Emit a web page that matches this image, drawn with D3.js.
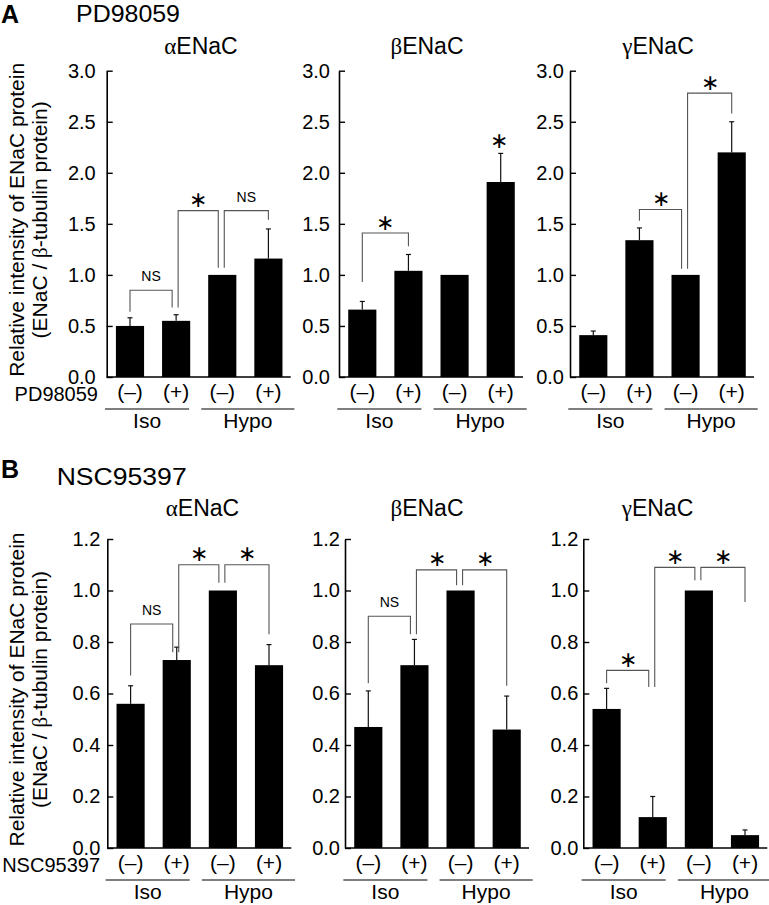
<!DOCTYPE html>
<html>
<head>
<meta charset="utf-8">
<script src="https://cdn.jsdelivr.net/npm/d3@7/dist/d3.min.js"></script>
<style>
  body { margin: 0; background: #fff; }
  svg { display: block; }
  text { font-family: "Liberation Sans", Arial, Helvetica, sans-serif; fill: #000; }
</style>
</head>
<body>
<svg id="chart" width="769" height="905"></svg>
<script>
// ---------- data ----------
const categories = ["(\u2013)", "(+)", "(\u2013)", "(+)"];
const groupLabels = ["Iso", "Hypo"];
const subunitGreek = ["\u03B1", "\u03B2", "\u03B3"];
const subunitName = "ENaC";
const headerA = "PD98059";
const headerB = "NSC95397";
const yTitle1 = "Relative intensity of ENaC protein";
const yTitle2a = "(ENaC / ";
const yTitle2b = "\u03B2";
const yTitle2c = "-tubulin protein)";
const yTicksA = [0, 0.5, 1.0, 1.5, 2.0, 2.5, 3.0];
const yTicksB = [0, 0.2, 0.4, 0.6, 0.8, 1.0, 1.2];

// PD98059 (panel A): means and SEM
const pdAlphaMean = [0.50, 0.55, 1.00, 1.16];
const pdAlphaSem  = [0.08, 0.06, 0, 0.29];
const pdBetaMean  = [0.66, 1.04, 1.00, 1.91];
const pdBetaSem   = [0.08, 0.16, 0, 0.28];
const pdGammaMean = [0.41, 1.34, 1.00, 2.20];
const pdGammaSem  = [0.04, 0.12, 0, 0.30];

// NSC95397 (panel B)
const nscAlphaMean = [0.56, 0.73, 1.00, 0.71];
const nscAlphaSem  = [0.07, 0.05, 0, 0.08];
const nscBetaMean  = [0.47, 0.71, 1.00, 0.46];
const nscBetaSem   = [0.14, 0.10, 0, 0.13];
const nscGammaMean = [0.54, 0.12, 1.00, 0.05];
const nscGammaSem  = [0.08, 0.08, 0, 0.02];

// significance brackets: [barFrom, barTo, label, level, leftLegEnd, rightLegEnd]
const pdAlphaBrackets = [[0,1,"NS",0.85,0.64,0.68],[1,2,"*",1.63,0.68,1.07],[2,3,"NS",1.63,1.07,1.54]];
const pdBetaBrackets  = [[0,1,"*",1.41,0.93,1.28]];
const pdBetaStars     = [[3, 2.32]];
const pdGammaBrackets = [[1,2,"*",1.64,1.53,1.06],[2,3,"*",2.78,1.06,2.58]];
const nscAlphaBrackets = [[0,1,"NS",0.87,0.67,0.76],[1,2,"*",1.10,0.76,1.03],[2,3,"*",1.10,1.03,0.83]];
const nscBetaBrackets  = [[0,1,"NS",0.90,0.64,0.83],[1,2,"*",1.08,0.83,1.02],[2,3,"*",1.08,1.02,0.63]];
const nscGammaBrackets = [[0,1,"*",0.69,0.64,0.625],[1,2,"*",1.09,0.625,1.04],[2,3,"*",1.09,1.04,0.955]];

// ---------- layout ----------
const svg = d3.select("#chart");
const FONT = 21;
const STAR_FONT = '"DejaVu Sans", sans-serif';

function star(g, x, y) {
  g.append("text").attr("x", x).attr("y", y).attr("text-anchor", "middle")
    .attr("dominant-baseline", "central")
    .attr("font-family", STAR_FONT).attr("font-size", 22).text("\u2217");
}

function drawPanel(opt) {
  const g = svg.append("g");
  const x = d3.scaleBand().domain(d3.range(4))
    .range([opt.axisX, opt.axisX + 185]).paddingInner(0.39).paddingOuter(0.2);
  const y = d3.scaleLinear().domain([0, opt.max]).range([opt.bottom, opt.top]);
  const cx = i => x(i) + x.bandwidth() / 2;

  // bars
  g.selectAll("rect.bar").data(opt.mean).join("rect")
    .attr("x", (d, i) => x(i)).attr("width", x.bandwidth())
    .attr("y", d => y(d)).attr("height", d => y(0) - y(d))
    .attr("fill", "#000");

  // error bars
  const eb = opt.mean.map((m, i) => ({i, m, s: opt.sem[i]})).filter(d => d.s > 0);
  g.selectAll("line.err").data(eb).join("line")
    .attr("x1", d => cx(d.i)).attr("x2", d => cx(d.i))
    .attr("y1", d => y(d.m)).attr("y2", d => y(d.m + d.s))
    .attr("stroke", "#111").attr("stroke-width", 1.2);
  g.selectAll("line.cap").data(eb).join("line")
    .attr("x1", d => cx(d.i) - 2.5).attr("x2", d => cx(d.i) + 2.5)
    .attr("y1", d => y(d.m + d.s)).attr("y2", d => y(d.m + d.s))
    .attr("stroke", "#111").attr("stroke-width", 1.2);

  // y axis (inward ticks)
  const ax = d3.axisLeft(y).tickValues(opt.ticks).tickFormat(d3.format(".1f"))
    .tickSizeInner(-6).tickSizeOuter(0).tickPadding(opt.tickPad);
  const ag = g.append("g").attr("transform", `translate(${opt.axisX},0)`).call(ax);
  ag.select(".domain").attr("stroke", "#000").attr("stroke-width", 1.6);
  ag.selectAll(".tick line").attr("stroke", "#000").attr("stroke-width", 1.4);
  ag.selectAll(".tick text").attr("font-size", 20)
    .attr("font-family", '"Liberation Sans", Arial, sans-serif').attr("fill", "#000");
  // x baseline
  g.append("line").attr("x1", opt.axisX).attr("x2", opt.axisX + 184)
    .attr("y1", y(0)).attr("y2", y(0)).attr("stroke", "#000").attr("stroke-width", 1.6);

  // category labels
  g.selectAll("text.cat").data(categories).join("text")
    .attr("x", (d, i) => cx(i)).attr("y", opt.bottom + 22)
    .attr("text-anchor", "middle").attr("font-size", FONT).text(d => d);

  // group lines and labels
  const grp = [[cx(0) - 25, cx(1) + 13], [cx(2) - 21, cx(3) + 26]];
  grp.forEach((r, k) => {
    g.append("line").attr("x1", r[0]).attr("x2", r[1])
      .attr("y1", opt.bottom + 32).attr("y2", opt.bottom + 32)
      .attr("stroke", "#000").attr("stroke-width", 1.2);
    g.append("text").attr("x", (r[0] + r[1]) / 2).attr("y", opt.bottom + 51)
      .attr("text-anchor", "middle").attr("font-size", FONT).text(groupLabels[k]);
  });

  // brackets
  const used = {};
  opt.brackets.forEach(b => { used[b[0]] = (used[b[0]] || 0) + 1; used[b[1]] = (used[b[1]] || 0) + 1; });
  opt.brackets.forEach(b => {
    const lx = cx(b[0]) + (used[b[0]] > 1 ? 2 : 0);
    const rx = cx(b[1]) + (used[b[1]] > 1 ? -4 : 0);
    const ly = y(b[3]);
    g.append("path")
      .attr("d", `M${lx},${y(b[4])}V${ly}H${rx}V${y(b[5])}`)
      .attr("fill", "none").attr("stroke", "#555").attr("stroke-width", 1.1);
    const mx = (lx + rx) / 2;
    if (b[2] === "NS") {
      g.append("text").attr("x", mx).attr("y", ly - 9).attr("text-anchor", "middle")
        .attr("font-size", 14).text("NS");
    } else {
      star(g, mx, ly - 11);
    }
  });
  (opt.stars || []).forEach(s => star(g, cx(s[0]) - 2, y(s[1])));

  // title
  const t = g.append("text").attr("x", opt.titleX).attr("y", opt.titleY)
    .attr("text-anchor", "middle").attr("font-size", 23);
  t.append("tspan").attr("font-family", '"Liberation Serif", "Times New Roman", serif').text(subunitGreek[opt.sub]);
  t.append("tspan").text(subunitName);
}

function drawSide(letter, header, rowLabel, top, bottom, letterY, headerY) {
  svg.append("text").attr("x", 1).attr("y", letterY).attr("font-size", 25)
    .attr("font-weight", "bold").text(letter);
  svg.append("text").attr("x", header.x).attr("y", headerY).attr("font-size", 23)
    .attr("textLength", header.len).attr("lengthAdjust", "spacingAndGlyphs").text(header.text);
  svg.append("text").attr("x", rowLabel.x).attr("y", bottom + 24).attr("font-size", 20)
    .attr("text-anchor", "end").text(rowLabel.text);
  const cy = (top + bottom) / 2 - 4;
  svg.append("text").attr("transform", `translate(24,${cy}) rotate(-90)`)
    .attr("text-anchor", "middle").attr("font-size", FONT).text(yTitle1);
  const t2 = svg.append("text").attr("transform", `translate(47,${cy}) rotate(-90)`)
    .attr("text-anchor", "middle").attr("font-size", FONT);
  t2.append("tspan").text(yTitle2a);
  t2.append("tspan").attr("font-family", '"Liberation Serif", "Times New Roman", serif').text(yTitle2b);
  t2.append("tspan").text(yTitle2c);
}

// Panel A
const A = {top: 70.7, bottom: 377, axisX: [106.7, 339, 570], titleX: [201, 427, 658], titleY: 54, pads: [11, 9, 6]};
drawSide("A", {x: 76, len: 104, text: headerA}, {x: 98, text: headerA}, A.top, A.bottom, 22.5, 21.7);
[[pdAlphaMean, pdAlphaSem, pdAlphaBrackets, null],
 [pdBetaMean, pdBetaSem, pdBetaBrackets, pdBetaStars],
 [pdGammaMean, pdGammaSem, pdGammaBrackets, null]].forEach((p, k) => drawPanel({
  axisX: A.axisX[k], top: A.top, bottom: A.bottom, max: 3.0, ticks: yTicksA,
  mean: p[0], sem: p[1], brackets: p[2], stars: p[3], sub: k,
  titleX: A.titleX[k], titleY: A.titleY, tickPad: A.pads[k]
}));

// Panel B
const B = {top: 539, bottom: 848, axisX: [107.3, 345, 583.3], titleX: [202.5, 427, 657.5], titleY: 516, pads: [7, 5, 5]};
drawSide("B", {x: 56.7, len: 130, text: headerB}, {x: 100, text: headerB}, B.top, B.bottom, 477.7, 485);
[[nscAlphaMean, nscAlphaSem, nscAlphaBrackets],
 [nscBetaMean, nscBetaSem, nscBetaBrackets],
 [nscGammaMean, nscGammaSem, nscGammaBrackets]].forEach((p, k) => drawPanel({
  axisX: B.axisX[k], top: B.top, bottom: B.bottom, max: 1.2, ticks: yTicksB,
  mean: p[0], sem: p[1], brackets: p[2], stars: null, sub: k,
  titleX: B.titleX[k], titleY: B.titleY, tickPad: B.pads[k]
}));
</script>
</body>
</html>
